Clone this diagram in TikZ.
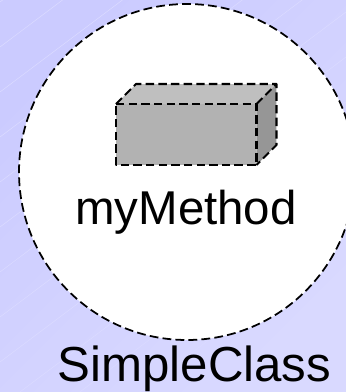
\documentclass[tikz,border=0pt]{standalone}
\usepackage{fontspec}
\setmainfont{Liberation Sans}
\usetikzlibrary{calc}
\definecolor{bgTop}{RGB}{203,203,255}
\definecolor{bgLow}{RGB}{217,217,255}
\tikzset{classpanel/.style={
  bubble/.style={circle, fill=white, draw=black, line width=1.0pt, dash pattern=on 5pt off 2.4pt, minimum size=6.72cm, inner sep=0pt},
  face/.style={draw=black, line width=1.2pt, dash pattern=on 4.8pt off 2.4pt, line join=round},
  lab/.style={font=\fontsize{27}{30}\selectfont, text=black, inner sep=0pt},
  sheen/.style={white!30!bgTop, line width=0.3pt},
}}
\begin{document}
\begin{tikzpicture}[classpanel]
\useasboundingbox (0,0) rectangle (6.92,7.84);
\path[clip] (0,0) rectangle (6.92,7.84);

% background
\shade[top color=bgTop, bottom color=bgLow, shading angle=45] (0,0) rectangle (6.92,7.84);
\foreach \y in {0.6,1.5,2.4,3.3,4.2,5.1,6.0,6.9,7.8,8.7,9.6,10.5}{
  \draw[sheen] (0,\y-2.7) -- ++(6.92,5.2);
}

% class bubble
\node[bubble] (classBubble) at (3.74,4.40) {};

% method box
\coordinate (frontNW) at (2.32,5.76);
\coordinate (frontNE) at (5.13,5.76);
\coordinate (frontSE) at (5.13,4.54);
\coordinate (frontSW) at (2.32,4.54);
\coordinate (backNW) at (2.72,6.16);
\coordinate (backNE) at (5.53,6.16);
\coordinate (backSE) at (5.53,4.94);
\fill[black!25] (frontNW) -- (backNW) -- (backNE) -- (frontNE) -- cycle;
\fill[black!41] (frontNE) -- (backNE) -- (backSE) -- (frontSE) -- cycle;
\fill[black!30] (frontNW) rectangle (frontSE);
\draw[face] (frontNW) -- (backNW) -- (backNE) -- (backSE) -- (frontSE);
\draw[face] (frontNW) -- (frontNE) -- (frontSE) -- (frontSW) -- cycle;
\draw[face] (frontNE) -- (backNE);

% labels
\node[lab] (methodLab) at (3.72,3.60) {myMethod};
\node[lab, font=\fontsize{28}{30}\selectfont] (classLab) at (3.89,0.46) {SimpleClass};
\end{tikzpicture}
\end{document}
